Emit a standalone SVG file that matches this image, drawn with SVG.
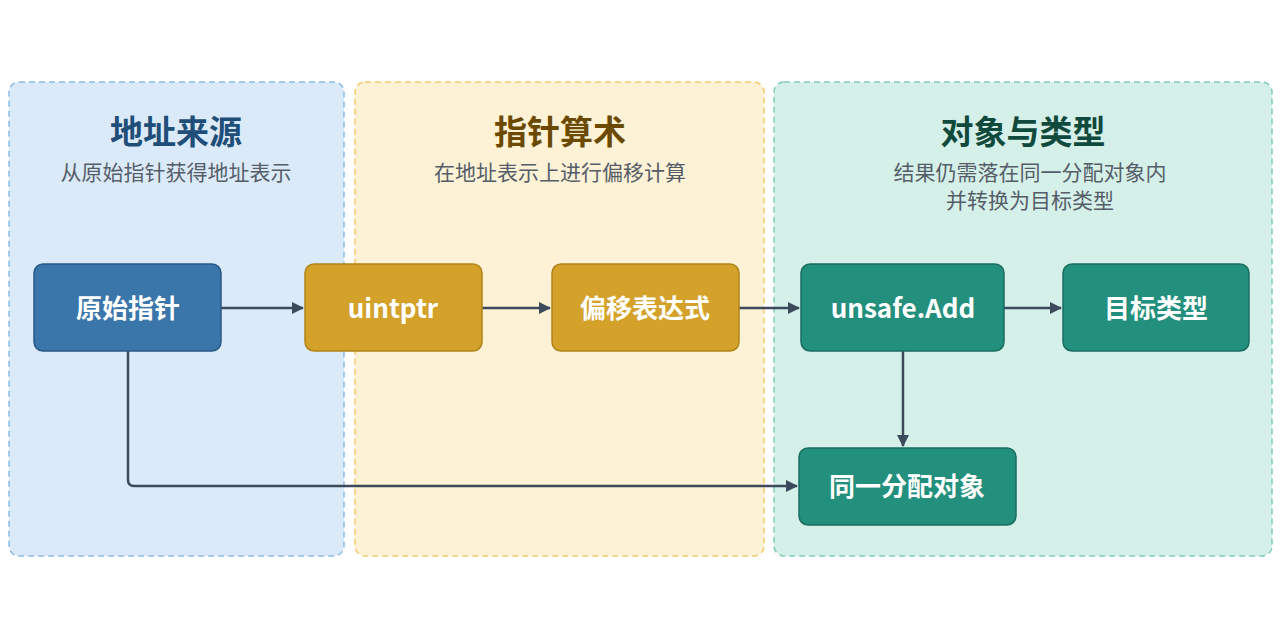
<svg xmlns="http://www.w3.org/2000/svg" width="1280" height="640" viewBox="0 0 1280 640">
<style>
.t{font-family:"Noto Sans CJK SC","Noto Sans",sans-serif;font-weight:700;font-size:33px;text-anchor:middle}
.s{font-family:"Noto Sans CJK SC","Noto Sans",sans-serif;font-size:21px;fill:#555e68;text-anchor:middle}
.n{font-family:"Noto Sans CJK SC","Noto Sans",sans-serif;font-weight:700;font-size:26px;fill:#fff;text-anchor:middle}
.c{fill:none;stroke:#3d4a5c;stroke-width:2.5}
</style>
<defs><marker id="a" markerWidth="12" markerHeight="12" refX="11" refY="6" orient="auto" markerUnits="userSpaceOnUse"><path d="M0,0 L12,6 L0,12 z" fill="#3d4a5c"/></marker></defs>
<rect width="1280" height="640" fill="#fff"/>
<g id="panel1"><rect x="9" y="82" width="335" height="474" rx="10" fill="#dbeaf8" stroke="#8fbce6" stroke-width="1.5" stroke-dasharray="6 4"/>
<text class="t" x="176" y="144" fill="#1f4e79">地址来源</text><text class="s" x="176" y="180">从原始指针获得地址表示</text></g>
<g id="panel2"><rect x="355" y="82" width="409" height="474" rx="10" fill="#fdf1d6" stroke="#f3cc6a" stroke-width="1.5" stroke-dasharray="6 4"/>
<text class="t" x="560" y="144" fill="#6b4a00">指针算术</text><text class="s" x="560" y="180">在地址表示上进行偏移计算</text></g>
<g id="panel3"><rect x="774" y="82" width="498" height="474" rx="10" fill="#d5efe9" stroke="#7fcdb9" stroke-width="1.5" stroke-dasharray="6 4"/>
<text class="t" x="1023" y="144" fill="#0f4a3c">对象与类型</text><text class="s" x="1030" y="180">结果仍需落在同一分配对象内</text><text class="s" x="1030" y="208">并转换为目标类型</text></g>
<g id="connectors">
<path class="c" d="M221,308 H303" marker-end="url(#a)"/>
<path class="c" d="M482,308 H550" marker-end="url(#a)"/>
<path class="c" d="M739,308 H799" marker-end="url(#a)"/>
<path class="c" d="M1004,308 H1061" marker-end="url(#a)"/>
<path class="c" d="M903,351 V446" marker-end="url(#a)"/>
<path class="c" d="M128,351 V480 Q128,486 134,486 H797" marker-end="url(#a)"/>
</g>
<g id="n1"><rect x="34" y="264" width="187" height="87" rx="9" fill="#3a76aa" stroke="#2a5a88" stroke-width="1.5"/><text class="n" x="128" y="318">原始指针</text></g>
<g id="n2"><rect x="305" y="264" width="177" height="87" rx="9" fill="#d4a22a" stroke="#b08418" stroke-width="1.5"/><text class="n" x="393" y="318">uintptr</text></g>
<g id="n3"><rect x="552" y="264" width="187" height="87" rx="9" fill="#d4a22a" stroke="#b08418" stroke-width="1.5"/><text class="n" x="645" y="318">偏移表达式</text></g>
<g id="n4"><rect x="801" y="264" width="203" height="87" rx="9" fill="#238f7d" stroke="#1a6e60" stroke-width="1.5"/><text class="n" x="903" y="318">unsafe.Add</text></g>
<g id="n5"><rect x="1063" y="264" width="186" height="87" rx="9" fill="#238f7d" stroke="#1a6e60" stroke-width="1.5"/><text class="n" x="1156" y="318">目标类型</text></g>
<g id="n6"><rect x="799" y="448" width="217" height="77" rx="9" fill="#238f7d" stroke="#1a6e60" stroke-width="1.5"/><text class="n" x="907" y="496">同一分配对象</text></g>
</svg>
